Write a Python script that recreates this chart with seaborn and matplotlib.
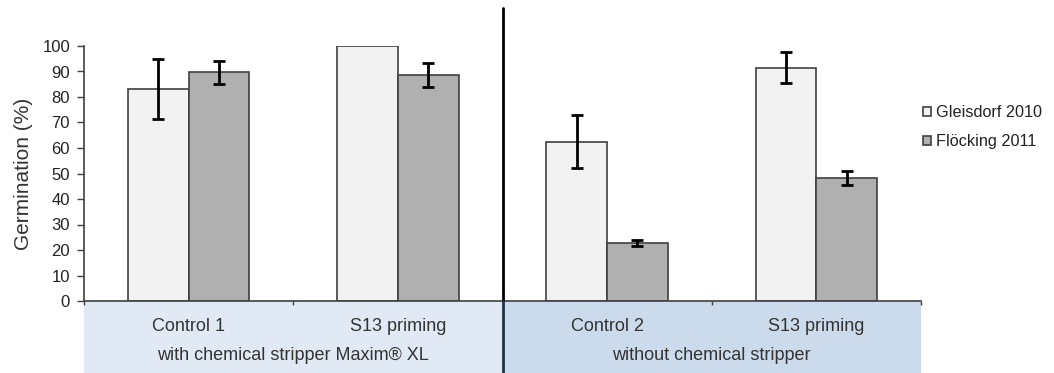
import matplotlib
matplotlib.use("Agg")
import matplotlib.pyplot as plt
from matplotlib.patches import Rectangle, Patch
import seaborn as sns
import pandas as pd

categories = ["Control 1", "S13 priming", "Control 2", "S13 priming "]
tick_labels = ["Control 1", "S13 priming", "Control 2", "S13 priming"]
groups = ["with chemical stripper Maxim® XL", "without chemical stripper"]
series = ["Gleisdorf 2010", "Flöcking 2011"]
gleisdorf = [83, 100, 62.5, 91.5]
gleisdorf_err = [11.8, 0, 10.4, 6.1]
flocking = [89.7, 88.6, 22.8, 48.3]
flocking_err = [4.5, 4.6, 1.1, 2.7]

df = pd.DataFrame({
    "category": categories * 2,
    "series": [series[0]] * 4 + [series[1]] * 4,
    "value": gleisdorf + flocking,
})

sns.set_style("white")
plt.rcParams["font.family"] = ["Liberation Sans", "DejaVu Sans"]

fig = plt.figure(figsize=(10.54, 3.73), dpi=100)
ax = fig.add_axes([84 / 1054, 1 - 301 / 373, (921 - 84) / 1054, 255 / 373])

fills = ["#f2f2f2", "#b0b0b0"]
sns.barplot(data=df, x="category", y="value", hue="series", order=categories,
            hue_order=series, palette=fills, width=0.58, gap=0,
            edgecolor="#404040", linewidth=1.2, errorbar=None, legend=False, ax=ax,
            saturation=1)

errs = [gleisdorf_err, flocking_err]
vals = [gleisdorf, flocking]
for cont, e, v in zip(ax.containers, errs, vals):
    xs = [b.get_x() + b.get_width() / 2 for b in cont]
    for x, val, err in zip(xs, v, e):
        if err > 0:
            ax.errorbar(x, val, yerr=err, fmt="none", ecolor="black",
                        elinewidth=2, capsize=4.2, capthick=2, zorder=5)

ax.set_xlim(-0.5, 3.5)
ax.set_ylim(0, 100)
ax.set_yticks(range(0, 101, 10))
ax.set_xticks([-0.5, 0.5, 1.5, 2.5, 3.5])
ax.set_xticklabels([])
ax.set_xlabel("")
ax.set_ylabel("Germination (%)", fontsize=15, color="#333333", labelpad=7)
ax.tick_params(axis="y", direction="out", length=5, width=1, color="#404040",
               labelsize=12, labelcolor="#222222", left=True, pad=5)
ax.tick_params(axis="x", direction="out", length=3, width=1, color="#404040", bottom=True)
for s in ["top", "right"]:
    ax.spines[s].set_visible(False)
for s in ["left", "bottom"]:
    ax.spines[s].set_color("#404040")
    ax.spines[s].set_linewidth(1.2)

trans = ax.get_xaxis_transform()
band_bottom = -0.29
ax.add_patch(Rectangle((-0.5, band_bottom), 2.0, -band_bottom, transform=trans,
                       facecolor="#e1e9f4", edgecolor="none", clip_on=False, zorder=0))
ax.add_patch(Rectangle((1.5, band_bottom), 2.0, -band_bottom, transform=trans,
                       facecolor="#cbdbec", edgecolor="none", clip_on=False, zorder=0))

ax.plot([1.5, 1.5], [0, 1.149], transform=trans, color="black", lw=2, clip_on=False, zorder=6)
ax.plot([1.5, 1.5], [band_bottom, 0], transform=trans, color="#23344a", lw=2, clip_on=False, zorder=6)

for i, lab in enumerate(tick_labels):
    ax.text(i, -0.1, lab, transform=trans, ha="center", va="center",
            fontsize=13, color="#333333")
ax.text(0.5, -0.215, groups[0], transform=trans, ha="center", va="center",
        fontsize=13, color="#333333")
ax.text(2.5, -0.215, groups[1], transform=trans, ha="center", va="center",
        fontsize=13, color="#333333")

handles = [Patch(facecolor=fills[0], edgecolor="#404040", linewidth=1.2),
           Patch(facecolor=fills[1], edgecolor="#404040", linewidth=1.2)]
fig.legend(handles, series, loc="center left", bbox_to_anchor=(0.862, 0.659),
           frameon=False, fontsize=11.7, handlelength=0.5, handleheight=0.5,
           handletextpad=0.3, labelspacing=0.85, labelcolor="#222222")

fig.savefig("out.png", dpi=100)
